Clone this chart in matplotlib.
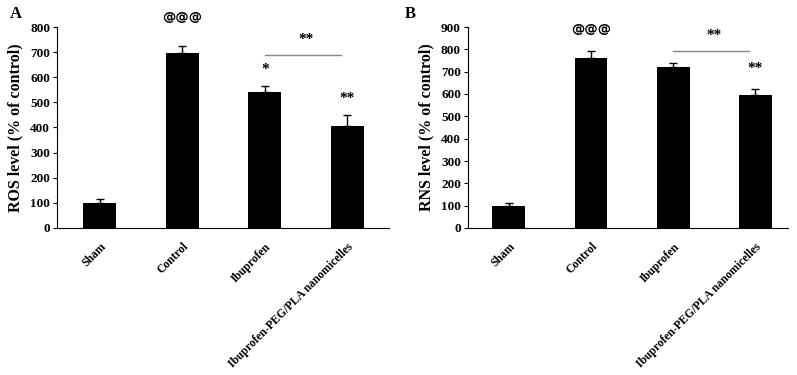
import numpy as np
import matplotlib
matplotlib.use("Agg")
import matplotlib.pyplot as plt

plt.rcParams['font.family'] = ['Liberation Serif', 'DejaVu Serif']
plt.rcParams['font.weight'] = 'bold'

# Data
groups = ["Sham", "Control", "Ibuprofen", "Ibuprofen-PEG/PLA nanomicelles"]
ros_mean = [100, 695, 543, 405]
ros_err = [15, 28, 23, 45]
rns_mean = [100, 760, 720, 597]
rns_err = [13, 31, 19, 24]

# significance marks: (group index, y, text)
ros_marks = [(1, 836, "@@@"), (2, 632, "*"), (3, 514, "**")]
rns_marks = [(1, 890, "@@@"), (3, 715, "**")]
ros_bracket = (2, 3, 690, 752)
rns_bracket = (2, 3, 794, 864)


def draw_panel(ax, means, errs, ymax, ylabel, marks, bracket, xlim):
    x = np.arange(len(groups))
    ax.bar(x, means, width=0.4, color='black', zorder=2)
    ax.errorbar(x, means, yerr=[np.zeros(len(errs)), errs], fmt='none',
                ecolor='black', elinewidth=1, capsize=3, capthick=1, zorder=1)
    ax.set_ylim(0, ymax)
    ax.set_yticks(np.arange(0, ymax + 1, 100))
    ax.set_xlim(*xlim)
    ax.set_xticks(x)
    ax.set_xticklabels(groups, rotation=45, ha='right', rotation_mode='anchor',
                       fontsize=8.4, fontweight='bold')
    ax.tick_params(axis='x', length=0, pad=9)
    ax.tick_params(axis='y', length=3, width=0.8, labelsize=9.5, pad=2)
    for lab in ax.get_yticklabels():
        lab.set_fontweight('bold')
    ax.spines['top'].set_visible(False)
    ax.spines['right'].set_visible(False)
    ax.spines['left'].set_linewidth(0.8)
    ax.spines['bottom'].set_linewidth(0.8)
    ax.set_ylabel(ylabel, fontsize=11.5, fontweight='bold', labelpad=5)

    for i, y, t in marks:
        fam = ['DejaVu Sans'] if t.startswith('@') else ['Liberation Serif']
        ax.text(i, y, t, ha='center', va='center', fontsize=9.5 if t.startswith('@') else 11,
                family=fam, clip_on=False)
    i0, i1, yl, yt = bracket
    ax.plot([i0, i1 - 0.08], [yl, yl], color='#888888', lw=1, clip_on=False)
    ax.text((i0 + i1) / 2, yt, "**", ha='center', va='center', fontsize=11)


fig = plt.figure(figsize=(7.97, 3.75), dpi=100)
axA = fig.add_axes([0.0715, 0.392, 0.416, 0.536])
axB = fig.add_axes([0.587, 0.392, 0.402, 0.536])

draw_panel(axA, ros_mean, ros_err, 800, "ROS level (% of control)",
           ros_marks, ros_bracket, (-0.52, 3.5))
draw_panel(axB, rns_mean, rns_err, 900, "RNS level (% of control)",
           rns_marks, rns_bracket, (-0.5, 3.4))

fig.text(0.012, 0.985, "A", fontsize=12, fontweight='bold', va='top')
fig.text(0.508, 0.985, "B", fontsize=12, fontweight='bold', va='top')

fig.savefig("out.png", dpi=100)
